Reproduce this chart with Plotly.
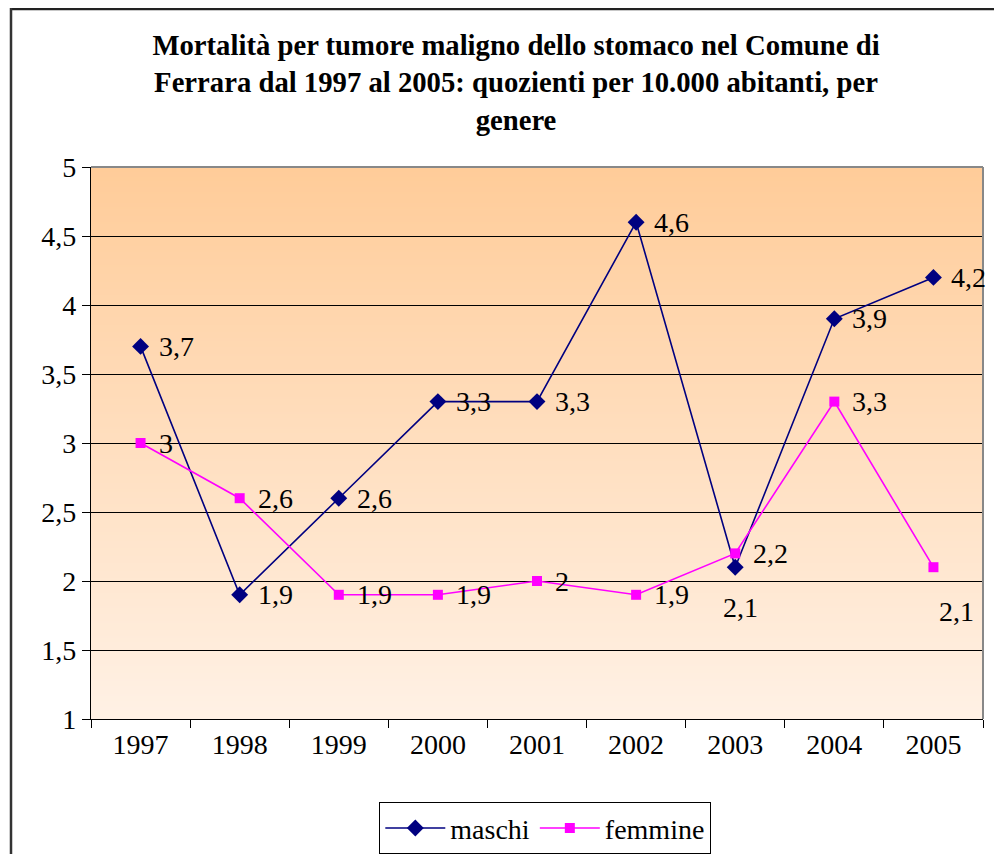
import base64
import struct
import zlib

import plotly.graph_objects as go

years = ["1997", "1998", "1999", "2000", "2001", "2002", "2003", "2004", "2005"]
maschi = [3.7, 1.9, 2.6, 3.3, 3.3, 4.6, 2.1, 3.9, 4.2]
femmine = [3, 2.6, 1.9, 1.9, 2, 1.9, 2.2, 3.3, 2.1]
y_ticks = [1, 1.5, 2, 2.5, 3, 3.5, 4, 4.5, 5]

# label placement: (xanchor, xshift, yshift) in pixels
RIGHT = ("left", 16, 0)
maschi_lab = [RIGHT] * 6 + [("center", 5, -40)] + [RIGHT] * 2
femmine_lab = [RIGHT] * 8 + [("center", 23, -44)]


def fmt(v):
    return str(v).replace(".", ",")


def gradient_png(top, bottom, n=256):
    rows = b""
    for i in range(n):
        t = i / (n - 1)
        c = bytes(round(top[k] + (bottom[k] - top[k]) * t) for k in range(3))
        rows += b"\x00" + c

    def chunk(tag, data):
        return struct.pack(">I", len(data)) + tag + data + struct.pack(">I", zlib.crc32(tag + data) & 0xFFFFFFFF)

    png = b"\x89PNG\r\n\x1a\n"
    png += chunk(b"IHDR", struct.pack(">IIBBBBB", 1, n, 8, 2, 0, 0, 0))
    png += chunk(b"IDAT", zlib.compress(rows))
    png += chunk(b"IEND", b"")
    return "data:image/png;base64," + base64.b64encode(png).decode()


FONT = "Liberation Serif, Times New Roman, serif"
FS = 28

fig = go.Figure()
fig.add_trace(go.Scatter(
    x=years, y=maschi, name="maschi", mode="lines+markers",
    line=dict(color="#000080", width=1.6),
    marker=dict(symbol="diamond", size=13, color="#000080"),
))
fig.add_trace(go.Scatter(
    x=years, y=femmine, name="femmine", mode="lines+markers",
    line=dict(color="#FF00FF", width=1.6),
    marker=dict(symbol="square", size=10, color="#FF00FF"),
))

annotations = []
for vals, labs in ((maschi, maschi_lab), (femmine, femmine_lab)):
    for i, (v, (xa, xs, ys)) in enumerate(zip(vals, labs)):
        annotations.append(dict(
            x=i, y=v, xref="x", yref="y", text=fmt(v), showarrow=False,
            xanchor=xa, yanchor="middle", xshift=xs, yshift=ys,
            font=dict(family=FONT, size=FS, color="black"),
        ))

# page body has an 8px margin: work in page pixels then subtract it
OFF = 8
W, H = 1003, 854
PL, PR, PT, PB = 91, 983, 167, 719  # plot area in page pixels
L, T = PL - OFF, PT - OFF
R = W - (PR - OFF)
B = H - (PB - OFF)
pw, ph = W - L - R, H - T - B


def px_x(x):
    return (x - OFF - L) / pw


def px_y(y):
    return 1 - (y - OFF - T) / ph


fig.update_layout(
    width=W, height=H,
    margin=dict(l=L, r=R, t=T, b=B, autoexpand=False),
    paper_bgcolor="white",
    plot_bgcolor="rgba(0,0,0,0)",
    separators=",.",
    font=dict(family=FONT, size=FS, color="black"),
    title=dict(
        text="<b>Mortalità per tumore maligno dello stomaco nel Comune di<br>"
             "Ferrara dal 1997 al 2005: quozienti per 10.000 abitanti, per<br>genere</b>",
        x=(516 - OFF) / W, xanchor="center", xref="container",
        y=1 - (55 - OFF) / H, yanchor="top", yref="container",
        font=dict(family=FONT, size=28.7, color="black"),
    ),
    showlegend=True,
    legend=dict(
        orientation="h", x=px_x(545), xanchor="center",
        y=px_y(802), yanchor="top",
        bordercolor="black", borderwidth=1.3, bgcolor="white",
        font=dict(family=FONT, size=FS),
        itemwidth=60, tracegroupgap=0,
    ),
    annotations=annotations,
    images=[dict(
        source=gradient_png((255, 204, 153), (255, 241, 229)),
        xref="x domain", yref="y domain", x=0, y=1, sizex=1, sizey=1,
        xanchor="left", yanchor="top", sizing="stretch", layer="below",
    )],
    shapes=[
        dict(type="line", xref="paper", yref="paper",
             x0=px_x(10), x1=px_x(994), y0=px_y(9), y1=px_y(9),
             line=dict(color="#222222", width=2.5)),
        dict(type="line", xref="paper", yref="paper",
             x0=px_x(11), x1=px_x(11), y0=px_y(8), y1=px_y(860),
             line=dict(color="#333333", width=2.5)),
        dict(type="line", xref="paper", yref="paper",
             x0=0, x1=1, y0=1, y1=1,
             line=dict(color="#888888", width=2)),
        dict(type="line", xref="paper", yref="paper",
             x0=1, x1=1, y0=0, y1=1,
             line=dict(color="#888888", width=2)),
    ],
)

fig.update_xaxes(
    type="category", tickson="boundaries",
    ticks="outside", ticklen=8, tickcolor="black", tickwidth=1,
    showline=True, linecolor="black", linewidth=1.3,
    showgrid=False, mirror=False,
    tickfont=dict(family=FONT, size=FS),
    range=[-0.5, 8.5],
)
fig.update_yaxes(
    range=[1, 5], tickvals=y_ticks,
    ticks="outside", ticklen=8, tickcolor="black", tickwidth=1,
    showline=True, linecolor="black", linewidth=1.3,
    showgrid=True, gridcolor="black", gridwidth=1,
    zeroline=False,
    tickfont=dict(family=FONT, size=FS),
)

fig.write_html("out.html")
